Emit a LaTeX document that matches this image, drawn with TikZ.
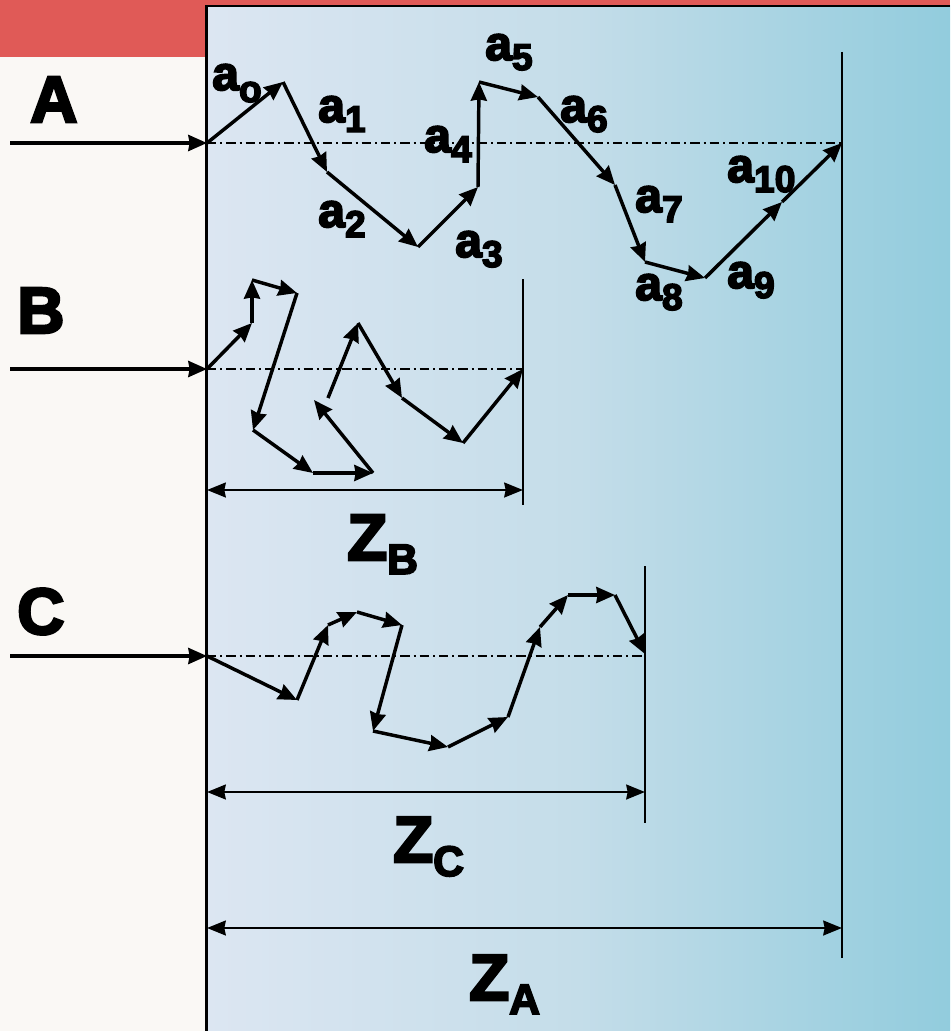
\documentclass[tikz,border=0pt]{standalone}
\usepackage{fontspec}
\setmainfont{Liberation Sans}
\newfontfamily\heavy{Liberation Sans Bold}[FakeBold=4]
\usetikzlibrary{arrows.meta}
\definecolor{bgcol}{HTML}{FAF8F5}
\definecolor{redbar}{HTML}{E05A57}
\definecolor{pl}{HTML}{DCE6F2}
\definecolor{pm}{HTML}{C4DDE9}
\definecolor{pr}{HTML}{92CCDD}
\newcommand\lsub[1]{a\raisebox{-7.5pt}{\fontsize{28}{30}\selectfont #1}}
\newcommand\zsub[1]{Z\raisebox{-10.5pt}{\fontsize{32}{34}\selectfont #1}}
\begin{document}
\begin{tikzpicture}[x=0.75pt,y=-0.75pt,
 vec/.style={line width=2.6pt, -{Stealth[length=14pt,width=12pt,inset=1pt]}},
 inarrow/.style={line width=2.6pt, -{Stealth[length=14pt,width=12pt,inset=1pt]}},
 dim/.style={line width=2.2pt, {Stealth[length=14pt,width=11pt,inset=1pt]}-{Stealth[length=14pt,width=11pt,inset=1pt]}},
 axisline/.style={line width=2pt, dash pattern=on 7pt off 3pt on 1.5pt off 3pt},
 endline/.style={line width=1.8pt},
 lab/.style={font=\fontsize{36}{38}\selectfont\heavy, inner sep=0pt, anchor=base west},
 big/.style={font=\fontsize{49}{50}\selectfont\heavy, inner sep=0pt, anchor=base west},
]
\useasboundingbox (0,0) rectangle (950,1031);
% background
\fill[bgcol] (0,0) rectangle (950,1031);
\fill[redbar] (0,0) rectangle (207,57);
\fill[redbar] (207,0) rectangle (950,6);
\shade[left color=pl, right color=pr, middle color=pm] (207,6) rectangle (950,1031);
\draw[line width=1.8pt] (206.5,1031) -- (206.5,6) -- (950,6);

% row labels
\node[big] (labA) at (30,122) {A};
\node[big] (labB) at (17,333) {B};
\node[big] (labC) at (17,634) {C};

% input arrows
\coordinate (inA) at (10,143);
\coordinate (inB) at (10,369);
\coordinate (inC) at (10,656);

% path A
\coordinate (A0) at (207,143);
\coordinate (A1) at (283,82);
\coordinate (A2) at (327,172);
\coordinate (A3) at (418,247);
\coordinate (A4) at (478,187);
\coordinate (A5) at (479,82);
\coordinate (A6) at (538,97);
\coordinate (A7) at (615,185);
\coordinate (A8) at (645,262);
\coordinate (A9) at (705,278);
\coordinate (A10) at (782,202);
\coordinate (A11) at (842,143);

% path B
\coordinate (B0) at (207,369);
\coordinate (B1) at (252,323);
\coordinate (B2) at (252,280);
\coordinate (B3) at (297,293);
\coordinate (B4) at (253,430);
\coordinate (B5) at (313,473);
\coordinate (B6) at (373,473);
\coordinate (B7) at (314,400);
\coordinate (B8) at (328,398);
\coordinate (B9) at (358,323);
\coordinate (B10) at (402,398);
\coordinate (B11) at (463,443);
\coordinate (B12) at (523,369);

% path C
\coordinate (C0) at (207,656);
\coordinate (C1) at (297,700);
\coordinate (C2) at (328,625);
\coordinate (C3) at (357,612);
\coordinate (C4) at (402,625);
\coordinate (C5) at (373,731);
\coordinate (C6) at (448,747);
\coordinate (C7) at (508,717);
\coordinate (C8) at (540,627);
\coordinate (C9) at (568,595);
\coordinate (C10) at (615,595);
\coordinate (C11) at (645,654);

% end lines
\coordinate (eAt) at (842,52);   \coordinate (eAb) at (842,958);
\coordinate (eBt) at (523,279);  \coordinate (eBb) at (523,505);
\coordinate (eCt) at (645,566);  \coordinate (eCb) at (645,823);
\draw[endline] (eAt) -- (eAb);
\draw[endline] (eBt) -- (eBb);
\draw[endline] (eCt) -- (eCb);

% axis lines
\draw[axisline] (A0) -- (A11);
\draw[axisline] (B0) -- (eBt |- B0);
\draw[axisline] (C0) -- (eCt |- C0);

% input arrows
\draw[inarrow] (inA) -- (A0);
\draw[inarrow] (inB) -- (B0);
\draw[inarrow] (inC) -- (C0);

% vectors A
\foreach \i [evaluate=\i as \j using int(\i+1)] in {0,...,10}
  \draw[vec] (A\i) -- (A\j);
% vectors B
\foreach \i/\j in {0/1,1/2,2/3,3/4,4/5,5/6,6/7,8/9,9/10,10/11,11/12}
  \draw[vec] (B\i) -- (B\j);
% vectors C
\foreach \i [evaluate=\i as \j using int(\i+1)] in {0,...,10}
  \draw[vec] (C\i) -- (C\j);

% dimension arrows
\coordinate (dB0) at (207,490); \coordinate (dB1) at (523,490);
\coordinate (dC0) at (207,792); \coordinate (dC1) at (645,792);
\coordinate (dA0) at (207,928); \coordinate (dA1) at (842,928);
\draw[dim] (dB0) -- (dB1);
\draw[dim] (dC0) -- (dC1);
\draw[dim] (dA0) -- (dA1);

% vector labels
\node[lab] (la0) at (212,90) {a\raisebox{-9pt}{\fontsize{28}{30}\selectfont o}};
\node[lab] (la1) at (318,122) {\lsub{1}};
\node[lab] (la2) at (318,227) {\lsub{2}};
\node[lab] (la3) at (455,257) {\lsub{3}};
\node[lab] (la4) at (424,152) {\lsub{4}};
\node[lab] (la5) at (485,60) {\lsub{5}};
\node[lab] (la6) at (560,122) {\lsub{6}};
\node[lab] (la7) at (635,212) {\lsub{7}};
\node[lab] (la8) at (635,300) {\lsub{8}};
\node[lab] (la9) at (727,288) {\lsub{9}};
\node[lab] (la10) at (727,182) {\lsub{10}};

% dimension labels
\node[big] (zB) at (347,560) {\zsub{B}};
\node[big] (zC) at (393,862) {\zsub{C}};
\node[big] (zA) at (469,1000) {\zsub{A}};
\end{tikzpicture}
\end{document}
